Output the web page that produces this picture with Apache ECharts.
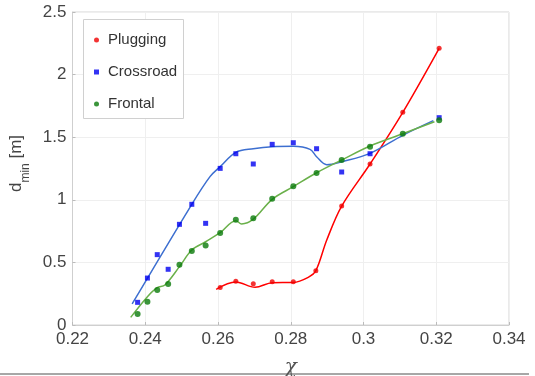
<!DOCTYPE html>
<html>
<head>
<meta charset="utf-8">
<script src="https://cdn.jsdelivr.net/npm/echarts@6/dist/echarts.min.js"></script>
<style>
html,body{margin:0;padding:0;background:#fff;}
#c{width:535px;height:376px;}
</style>
</head>
<body>
<div id="c"></div>
<script>
// measured points
var chiPlug = [0.2606, 0.2649, 0.2697, 0.2749, 0.2807, 0.2869, 0.2940, 0.3018, 0.3108, 0.3208];
var dPlug   = [0.300, 0.350, 0.330, 0.345, 0.345, 0.434, 0.950, 1.286, 1.699, 2.210];

var chiCross = [0.2379, 0.2406, 0.2433, 0.2463, 0.2494, 0.2528, 0.2566, 0.2606, 0.2649, 0.2697, 0.2749, 0.2807, 0.2871, 0.2940, 0.3018, 0.3208];
var dCross   = [0.181, 0.375, 0.562, 0.445, 0.804, 0.964, 0.812, 1.251, 1.368, 1.286, 1.443, 1.456, 1.408, 1.222, 1.368, 1.656];

var chiFront = [0.2379, 0.2406, 0.2433, 0.2463, 0.2494, 0.2528, 0.2566, 0.2606, 0.2649, 0.2697, 0.2749, 0.2807, 0.2871, 0.2940, 0.3018, 0.3108, 0.3208];
var dFront   = [0.088, 0.186, 0.280, 0.327, 0.482, 0.591, 0.634, 0.735, 0.841, 0.852, 1.009, 1.108, 1.214, 1.318, 1.424, 1.528, 1.635];

// fitted curves
var fitPlugChi = [0.2595, 0.2649, 0.2702, 0.2749, 0.2807, 0.2848, 0.2869, 0.2899, 0.2940, 0.3018, 0.3108, 0.3208];
var fitPlugD   = [0.285, 0.343, 0.301, 0.338, 0.340, 0.381, 0.434, 0.679, 0.950, 1.286, 1.699, 2.210];

var fitCrossChi = [0.2364, 0.2528, 0.2578, 0.2606, 0.2649, 0.2697, 0.2749, 0.2807, 0.2853, 0.2871, 0.2899, 0.2940, 0.3018, 0.3108, 0.3192];
var fitCrossD   = [0.168, 0.964, 1.185, 1.265, 1.379, 1.408, 1.424, 1.427, 1.403, 1.344, 1.280, 1.304, 1.371, 1.515, 1.632];

var fitFrontChi = [0.2360, 0.2406, 0.2433, 0.2454, 0.2494, 0.2528, 0.2566, 0.2606, 0.2649, 0.2665, 0.2697, 0.2749, 0.2807, 0.2871, 0.2940, 0.3018, 0.3108, 0.3195];
var fitFrontD   = [0.061, 0.226, 0.298, 0.319, 0.466, 0.599, 0.665, 0.737, 0.833, 0.807, 0.845, 1.004, 1.105, 1.216, 1.318, 1.430, 1.528, 1.624];

var seriesNames = ['Plugging', 'Crossroad', 'Frontal'];
var xTicks = {min: 0.22, max: 0.34, interval: 0.02};
var yTicks = {min: 0, max: 2.5, interval: 0.5};

function zip(a, b) { return a.map(function (v, i) { return [v, b[i]]; }); }

var FONT = '"Liberation Sans", Arial, Helvetica, sans-serif';
var chart = echarts.init(document.getElementById('c'));
chart.setOption({
  animation: false,
  grid: {left: 72.5, top: 12, width: 436.5, height: 313, show: true, borderColor: '#d4d4d4', borderWidth: 1, backgroundColor: 'transparent', containLabel: false, outerBoundsMode: 'none'},
  xAxis: {
    type: 'value', min: xTicks.min, max: xTicks.max, interval: xTicks.interval,
    name: 'χ', nameLocation: 'middle', nameGap: 33,
    nameTextStyle: {fontFamily: '"DejaVu Serif", "Liberation Serif", serif', fontStyle: 'italic', fontSize: 20, color: '#555'},
    axisLine: {show: true, lineStyle: {color: '#cfcfcf'}},
    axisTick: {show: true, inside: true, length: 3, lineStyle: {color: '#bbb'}},
    splitLine: {show: true, lineStyle: {color: '#efefef'}},
    axisLabel: {fontFamily: FONT, fontSize: 17, color: '#444', margin: 6, showMinLabel: true, showMaxLabel: true,
      formatter: function (v) { return String(parseFloat(v.toFixed(2))); }}
  },
  yAxis: {
    type: 'value', min: yTicks.min, max: yTicks.max, interval: yTicks.interval,
    name: '{d|d}{s|min}{d| [m]}', nameLocation: 'middle', nameGap: 38, nameRotate: 90,
    nameTextStyle: {
      padding: [0, 0, 0, 10],
      rich: {
        d: {fontFamily: FONT, fontSize: 17, color: '#444', verticalAlign: 'bottom', lineHeight: 20},
        s: {fontFamily: FONT, fontSize: 12, color: '#444', verticalAlign: 'bottom', lineHeight: 20, padding: [0, 0, -7, 0]}
      }
    },
    axisLine: {show: true, lineStyle: {color: '#cfcfcf'}},
    axisTick: {show: true, inside: true, length: 3, lineStyle: {color: '#bbb'}},
    splitLine: {show: true, lineStyle: {color: '#efefef'}},
    axisLabel: {fontFamily: FONT, fontSize: 17, color: '#444', margin: 6,
      formatter: function (v) { return String(parseFloat(v.toFixed(2))); }}
  },
  legend: {
    orient: 'vertical', left: 89, top: 26, itemWidth: 5, itemHeight: 5, itemGap: 14, z: 10,
    data: [
      {name: seriesNames[0], icon: 'circle'},
      {name: seriesNames[1], icon: 'rect'},
      {name: seriesNames[2], icon: 'circle'}
    ],
    textStyle: {fontFamily: FONT, fontSize: 15, color: '#333', padding: [0, 0, 0, 4], lineHeight: 18}
  },
  graphic: [
    {type: 'rect', left: 83, top: 19, z: 1, shape: {width: 100, height: 99}, style: {fill: '#fff', stroke: '#d0d0d0', lineWidth: 1}},
    {type: 'line', shape: {x1: 0, y1: 374, x2: 529, y2: 374}, style: {stroke: '#8a8a8a', lineWidth: 1.5}}
  ],
  series: [
    {name: 'fitP', type: 'line', data: zip(fitPlugChi, fitPlugD), smooth: 0.35, showSymbol: false, lineStyle: {color: '#ff0000', width: 1.5}, z: 2},
    {name: 'fitC', type: 'line', data: zip(fitCrossChi, fitCrossD), smooth: 0.35, showSymbol: false, lineStyle: {color: '#3d6fd0', width: 1.5}, z: 2},
    {name: 'fitF', type: 'line', data: zip(fitFrontChi, fitFrontD), smooth: 0.35, showSymbol: false, lineStyle: {color: '#6ab04a', width: 1.5}, z: 2},
    {name: seriesNames[0], type: 'scatter', data: zip(chiPlug, dPlug), symbol: 'circle', symbolSize: 5, itemStyle: {color: '#f00000'}, z: 3},
    {name: seriesNames[1], type: 'scatter', data: zip(chiCross, dCross), symbol: 'rect', symbolSize: 5, itemStyle: {color: '#0000f0'}, z: 3},
    {name: seriesNames[2], type: 'scatter', data: zip(chiFront, dFront), symbol: 'circle', symbolSize: 6, itemStyle: {color: '#0a7a0a'}, z: 3}
  ]
});
</script>
</body>
</html>
